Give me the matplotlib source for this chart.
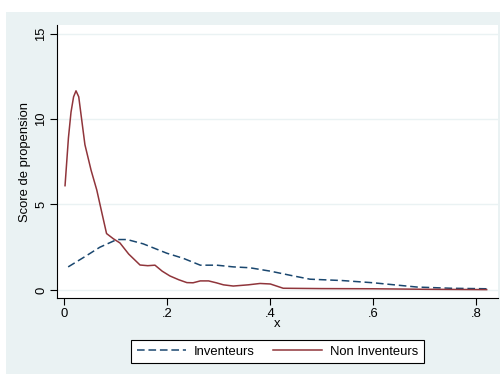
import numpy as np
import matplotlib.pyplot as plt
from matplotlib.patches import Rectangle

plt.rcParams['font.family'] = ['Liberation Sans', 'DejaVu Sans']

# courbes
x_inv = [0.0075, 0.04, 0.069, 0.102, 0.122, 0.153, 0.199, 0.231, 0.264, 0.296,
         0.328, 0.36, 0.4, 0.44, 0.477, 0.54, 0.6, 0.685, 0.75, 0.82]
y_inv = [1.35, 1.95, 2.5, 2.95, 2.95, 2.7, 2.15, 1.85, 1.45, 1.45,
         1.35, 1.3, 1.1, 0.85, 0.63, 0.55, 0.42, 0.17, 0.1, 0.07]

x_non = [0.0014, 0.008, 0.013, 0.018, 0.0227, 0.028, 0.040, 0.052, 0.063, 0.073,
         0.082, 0.095, 0.108, 0.125, 0.147, 0.162, 0.176, 0.19, 0.205, 0.222,
         0.238, 0.25, 0.264, 0.28, 0.295, 0.309, 0.328, 0.357, 0.38, 0.4,
         0.425, 0.5, 0.6, 0.7, 0.82]
y_non = [6.1, 8.9, 10.4, 11.3, 11.65, 11.3, 8.5, 7.0, 5.85, 4.5,
         3.3, 3.0, 2.75, 2.1, 1.46, 1.42, 1.45, 1.1, 0.82, 0.6,
         0.43, 0.42, 0.53, 0.53, 0.42, 0.3, 0.23, 0.3, 0.38, 0.35,
         0.1, 0.08, 0.07, 0.04, 0.02]

x_ticks = [0, 0.2, 0.4, 0.6, 0.8]
x_tick_labels = ['0', '.2', '.4', '.6', '.8']
y_ticks = [0, 5, 10, 15]

fs = 9.4
bg = '#EAF2F3'
W, H = 501, 374
fig = plt.figure(figsize=(W / 100, H / 100), dpi=100, facecolor='white')
fig.patches.append(Rectangle((6 / W, 0), 494 / W, (H - 12) / H,
                             transform=fig.transFigure, facecolor=bg,
                             edgecolor='none', zorder=-10))

ax = fig.add_axes([57 / W, 1 - 298 / H, (498 - 57) / W, (298 - 25) / H])
ax.set_facecolor('white')

ax.plot(x_inv, y_inv, color='#1A476F', lw=1.1, dashes=(5, 2.5), label='Inventeurs')
ax.plot(x_non, y_non, color='#90353B', lw=1.1, label='Non Inventeurs')

ax.set_xlim(-0.0142, 0.842)
ax.set_ylim(-0.47, 15.5)
ax.set_xticks(x_ticks)
ax.set_xticklabels(x_tick_labels)
ax.set_yticks(y_ticks)
ax.set_yticklabels([str(v) for v in y_ticks], rotation=90, va='center')
ax.grid(axis='y', color=bg, lw=1.0)
ax.set_axisbelow(True)
ax.tick_params(labelsize=fs, length=5, width=0.8, color='black')
ax.tick_params(axis='y', pad=2)
ax.tick_params(axis='x', pad=2.5)

for s in ['top', 'right']:
    ax.spines[s].set_visible(False)
for s in ['left', 'bottom']:
    ax.spines[s].set_color('black')
    ax.spines[s].set_linewidth(0.8)

ax.set_xlabel('x', fontsize=fs, labelpad=-2)
ax.set_ylabel('Score de propension', fontsize=fs, labelpad=3)

leg = fig.legend(loc='center', bbox_to_anchor=(277.5 / W, 1 - 351.5 / H), ncol=2,
                 fontsize=fs, frameon=True, fancybox=False, edgecolor='black',
                 handlelength=3.75, handletextpad=0.6, columnspacing=1.4,
                 borderpad=0.45, framealpha=1)
leg.get_frame().set_linewidth(0.8)
leg.get_frame().set_facecolor('white')

fig.savefig('out.png', dpi=100, facecolor='white')
